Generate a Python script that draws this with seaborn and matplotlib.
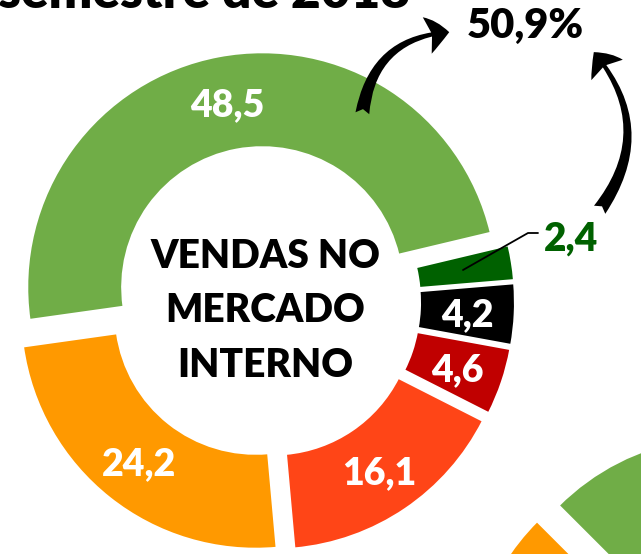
import matplotlib
matplotlib.use("Agg")
import matplotlib.pyplot as plt
from matplotlib.patches import FancyArrowPatch
import seaborn as sns

# ---- data ----
categories = ["Verde claro", "Verde escuro", "Preto", "Vermelho escuro", "Vermelho", "Laranja"]
values = [48.5, 2.4, 4.2, 4.6, 16.1, 24.2]
colors = ["#70AD47", "#006100", "#000000", "#C00000", "#FF4517", "#FF9900"]
center_lines = ["VENDAS NO", "MERCADO", "INTERNO"]
total_label = "50,9%"
small_label = "2,4"
title_text = "semestre de 2018"

# second (partially visible) donut
second_values = [40.0, 30.0, 30.0]
second_colors = ["#70AD47", "#FF4517", "#FF9900"]

sns.set_theme(style="white")
plt.rcParams['font.family'] = ['Lato', 'DejaVu Sans']

W, H = 641, 554
fig = plt.figure(figsize=(W / 100, H / 100), dpi=100)
ax = fig.add_axes([0, 0, 1, 1])

def Y(y_img):
    return H - y_img

R = 235
RING = 95
EXP = 15
cx, cy = 265, Y(302)
WEIGHT = "heavy"

wedges, texts, autotexts = ax.pie(
    values, colors=colors, startangle=188, counterclock=False,
    radius=R, center=(cx, cy), explode=[EXP] * len(values),
    wedgeprops=dict(width=RING, edgecolor="white", linewidth=1.5),
    autopct=lambda p: f"{p:.1f}".replace(".", ","), pctdistance=188 / R,
    textprops=dict(color="white", fontsize=27, fontweight=WEIGHT),
)
autotexts[1].set_text("")
for t in autotexts:
    t.set_va("center_baseline")

# second donut, mostly outside the picture
ax.pie(
    second_values, colors=second_colors, startangle=135, counterclock=False,
    radius=R, center=(718, Y(685)), explode=[EXP] * len(second_values),
    wedgeprops=dict(width=RING, edgecolor="white", linewidth=1.5),
)

# centre text
for line, yb in zip(center_lines, [268, 322, 377]):
    ax.text(265, Y(yb), line, ha="center", va="baseline", fontsize=28,
            fontweight=WEIGHT, color="black")

# partial title at top (cut off)
ax.text(410, Y(8), title_text, ha="right", va="baseline", fontsize=37,
        fontweight=WEIGHT, color="black")

# 50,9% label
ax.text(525, Y(38), total_label, ha="center", va="baseline", fontsize=30,
        fontweight=WEIGHT, color="black")

# 2,4 label with leader line
ax.text(544, Y(251), small_label, ha="left", va="baseline", fontsize=28,
        fontweight=WEIGHT, color="#006100")
ax.plot([538, 528, 463], [Y(233), Y(233), Y(270)], color="black", lw=1.3)

# curved arrows
style = "fancy,head_length=1.6,head_width=2.7,tail_width=1.0"
a1 = FancyArrowPatch((362, Y(116)), (452, Y(32)), arrowstyle=style,
                     connectionstyle="arc3,rad=-0.42", mutation_scale=10,
                     color="black", lw=0)
a2 = FancyArrowPatch((598, Y(212)), (592, Y(50)), arrowstyle=style,
                     connectionstyle="arc3,rad=0.4", mutation_scale=10,
                     color="black", lw=0)
ax.add_patch(a1)
ax.add_patch(a2)

ax.set_xlim(0, W)
ax.set_ylim(0, H)
ax.set_aspect("equal")
ax.axis("off")

fig.savefig("out.png", dpi=100, facecolor="white")
